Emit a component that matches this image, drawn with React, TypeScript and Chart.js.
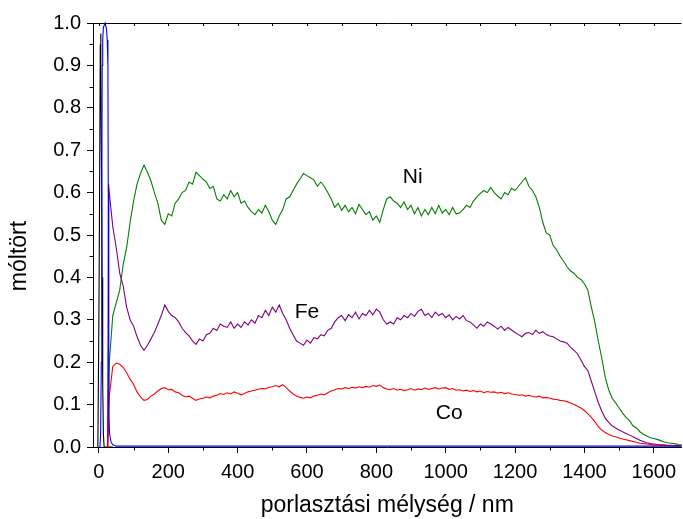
import React, { useEffect, useRef } from "react";
import { Chart, registerables } from "chart.js";

Chart.register(...registerables);

// ---- Data (mole fractions vs. sputter depth in nm) ----
const gridStart = 30;
const gridStep = 10;

const niLeadDepth = [24, 27];
const niLead = [0, 0.05];
const niValues = [
  0.20, 0.31, 0.34, 0.37, 0.43, 0.47, 0.53, 0.58, 0.62, 0.645,
  0.665, 0.648, 0.628, 0.60, 0.575, 0.535, 0.525, 0.55, 0.545, 0.575,
  0.585, 0.60, 0.605, 0.625, 0.62, 0.648, 0.64, 0.632, 0.625, 0.61,
  0.615, 0.585, 0.58, 0.595, 0.585, 0.605, 0.59, 0.60, 0.575, 0.58,
  0.565, 0.555, 0.548, 0.56, 0.552, 0.57, 0.555, 0.535, 0.525, 0.545,
  0.56, 0.585, 0.59, 0.605, 0.62, 0.632, 0.645, 0.64, 0.635, 0.63,
  0.615, 0.625, 0.615, 0.60, 0.585, 0.565, 0.575, 0.558, 0.57, 0.555,
  0.565, 0.55, 0.572, 0.56, 0.548, 0.555, 0.535, 0.545, 0.53, 0.56,
  0.585, 0.59, 0.58, 0.575, 0.565, 0.578, 0.56, 0.57, 0.55, 0.565,
  0.545, 0.56, 0.548, 0.565, 0.55, 0.57, 0.552, 0.56, 0.548, 0.565,
  0.55, 0.552, 0.56, 0.57, 0.565, 0.58, 0.59, 0.598, 0.605, 0.60,
  0.612, 0.60, 0.592, 0.585, 0.60, 0.595, 0.61, 0.605, 0.615, 0.625,
  0.635, 0.615, 0.605, 0.59, 0.565, 0.53, 0.505, 0.50, 0.475, 0.465,
  0.45, 0.438, 0.425, 0.415, 0.41, 0.40, 0.395, 0.385, 0.37, 0.33,
  0.295, 0.25, 0.21, 0.165, 0.135, 0.115, 0.104, 0.092, 0.08, 0.07,
  0.062, 0.05, 0.045, 0.036, 0.03, 0.026, 0.022, 0.02, 0.018, 0.015,
  0.012, 0.01, 0.009, 0.008, 0.006, 0.005,
];

const feLeadDepth = [25, 28];
const feLead = [0, 0.62];
const feValues = [
  0.60, 0.52, 0.47, 0.41, 0.38, 0.33, 0.30, 0.285, 0.26, 0.24,
  0.228, 0.24, 0.255, 0.27, 0.29, 0.31, 0.335, 0.32, 0.31, 0.305,
  0.295, 0.28, 0.27, 0.262, 0.25, 0.242, 0.255, 0.25, 0.265, 0.268,
  0.28, 0.275, 0.29, 0.285, 0.282, 0.295, 0.28, 0.29, 0.282, 0.295,
  0.288, 0.30, 0.292, 0.31, 0.305, 0.322, 0.31, 0.33, 0.318, 0.335,
  0.315, 0.30, 0.28, 0.265, 0.25, 0.245, 0.24, 0.252, 0.245, 0.258,
  0.255, 0.265, 0.262, 0.275, 0.28, 0.295, 0.305, 0.31, 0.298, 0.312,
  0.305, 0.318, 0.302, 0.315, 0.31, 0.322, 0.312, 0.325, 0.318, 0.30,
  0.29, 0.295, 0.29, 0.305, 0.30, 0.31, 0.305, 0.315, 0.308, 0.32,
  0.325, 0.31, 0.315, 0.305, 0.318, 0.31, 0.315, 0.305, 0.312, 0.30,
  0.308, 0.302, 0.31, 0.298, 0.295, 0.288, 0.28, 0.29, 0.285, 0.295,
  0.29, 0.285, 0.278, 0.285, 0.275, 0.282, 0.276, 0.27, 0.265, 0.26,
  0.268, 0.27, 0.265, 0.275, 0.268, 0.272, 0.265, 0.262, 0.26, 0.255,
  0.25, 0.248, 0.245, 0.235, 0.228, 0.22, 0.205, 0.19, 0.18, 0.155,
  0.13, 0.105, 0.085, 0.068, 0.058, 0.05, 0.045, 0.04, 0.036, 0.032,
  0.028, 0.024, 0.02, 0.016, 0.013, 0.01, 0.008, 0.007, 0.006, 0.005,
  0.005, 0.004, 0.004, 0.003, 0.003, 0.003,
];

const coLeadDepth = [26, 28];
const coLead = [0, 0.05];
const coValues = [
  0.12, 0.19, 0.198, 0.195, 0.188, 0.175, 0.16, 0.148, 0.13, 0.118,
  0.11, 0.112, 0.12, 0.125, 0.132, 0.138, 0.14, 0.135, 0.136, 0.13,
  0.128, 0.122, 0.118, 0.12, 0.115, 0.11, 0.113, 0.115, 0.118, 0.116,
  0.12, 0.122, 0.126, 0.124, 0.128, 0.125, 0.13, 0.127, 0.123, 0.126,
  0.13, 0.132, 0.134, 0.136, 0.138, 0.137, 0.141, 0.142, 0.145, 0.142,
  0.147, 0.14, 0.132, 0.125, 0.12, 0.117, 0.115, 0.118, 0.116, 0.12,
  0.122, 0.125, 0.123, 0.128, 0.132, 0.135, 0.138, 0.137, 0.14, 0.138,
  0.141, 0.139, 0.142, 0.14, 0.143, 0.141, 0.145, 0.143, 0.146, 0.14,
  0.137, 0.135, 0.138, 0.134, 0.136, 0.133, 0.135, 0.138, 0.134, 0.137,
  0.135, 0.139, 0.136, 0.138, 0.14, 0.137, 0.139, 0.14, 0.136, 0.138,
  0.134, 0.135, 0.132, 0.134, 0.131, 0.133, 0.13, 0.132, 0.128, 0.131,
  0.129, 0.13, 0.127, 0.129, 0.126, 0.128, 0.125, 0.124, 0.122, 0.123,
  0.12, 0.122, 0.119, 0.118, 0.12, 0.116, 0.117, 0.115, 0.113, 0.112,
  0.11, 0.109, 0.107, 0.104, 0.10, 0.096, 0.092, 0.086, 0.078, 0.07,
  0.06, 0.048, 0.04, 0.034, 0.03, 0.026, 0.024, 0.021, 0.019, 0.017,
  0.015, 0.013, 0.011, 0.009, 0.008, 0.007, 0.006, 0.005, 0.005, 0.004,
  0.004, 0.003, 0.003, 0.003, 0.003, 0.003,
];

const blackDepth = [-3, 0, 2, 4, 5, 6, 8, 9, 11, 13, 15, 40];
const blackValues = [0, 0.3, 0.6, 0.95, 0.975, 0.9, 0.6, 0.4, 0.15, 0.03, 0, 0];

const blueDepth = [0, 3, 5, 7, 8.5, 9.5, 11, 13, 18, 22, 24, 26, 27, 28, 29, 31, 35, 40, 50, 1680];
const blueValues = [0, 0, 0.03, 0.2, 0.6, 0.9, 0.96, 0.99, 1.0, 0.985, 0.96, 0.9, 0.6, 0.25, 0.08, 0.03, 0.012, 0.005, 0.002, 0.002];

const xTickValues = [0, 200, 400, 600, 800, 1000, 1200, 1400, 1600];
const xMinorValues = [100, 300, 500, 700, 900, 1100, 1300, 1500];
const yTickValues = [0, 0.1, 0.2, 0.3, 0.4, 0.5, 0.6, 0.7, 0.8, 0.9, 1.0];
const yMinorValues = [0.05, 0.15, 0.25, 0.35, 0.45, 0.55, 0.65, 0.75, 0.85, 0.95];
const topTickValues = [0, 100, 200, 300, 400, 500, 600, 700, 800, 900, 1000, 1100, 1200, 1300, 1400, 1500, 1600];

const xTitle = "porlasztási mélység / nm";
const yTitle = "móltört";
const seriesLabels = [
  { text: "Ni", x: 905, y: 0.637 },
  { text: "Fe", x: 600, y: 0.318 },
  { text: "Co", x: 1010, y: 0.08 },
];

const FONT = "'Liberation Sans', Arial, Helvetica, sans-serif";

function grid(values: number[]) {
  return values.map((y, i) => ({ x: gridStart + i * gridStep, y }));
}
function pairs(xs: number[], ys: number[]) {
  return xs.map((x, i) => ({ x, y: ys[i] }));
}

const decorPlugin = {
  id: "decor",
  afterDraw(chart: any) {
    const ctx = chart.ctx;
    const xs = chart.scales.x;
    const ys = chart.scales.y;
    const area = chart.chartArea;
    ctx.save();
    ctx.strokeStyle = "#000";
    ctx.lineWidth = 1;
    // top frame line
    ctx.beginPath();
    ctx.moveTo(area.left, area.top + 0.5);
    ctx.lineTo(area.right, area.top + 0.5);
    ctx.stroke();
    // top inward ticks
    ctx.beginPath();
    topTickValues.forEach((v) => {
      const px = Math.round(xs.getPixelForValue(v)) + 0.5;
      ctx.moveTo(px, area.top);
      ctx.lineTo(px, area.top + 3);
    });
    // bottom minor ticks
    xMinorValues.forEach((v) => {
      const px = Math.round(xs.getPixelForValue(v)) + 0.5;
      ctx.moveTo(px, area.bottom);
      ctx.lineTo(px, area.bottom + 3.5);
    });
    // left minor ticks
    yMinorValues.forEach((v) => {
      const py = Math.round(ys.getPixelForValue(v)) + 0.5;
      ctx.moveTo(area.left, py);
      ctx.lineTo(area.left - 3.5, py);
    });
    ctx.stroke();

    // series labels
    ctx.fillStyle = "#000";
    ctx.font = `21px ${FONT}`;
    ctx.textAlign = "center";
    ctx.textBaseline = "middle";
    seriesLabels.forEach((l) => {
      ctx.fillText(l.text, xs.getPixelForValue(l.x), ys.getPixelForValue(l.y));
    });

    // axis titles
    ctx.font = `23px ${FONT}`;
    ctx.fillText(xTitle, (area.left + area.right) / 2, 506);
    ctx.translate(20, 256);
    ctx.rotate(-Math.PI / 2);
    ctx.fillText(yTitle, 0, 0);
    ctx.restore();
  },
};

export default function App() {
  const ref = useRef<HTMLCanvasElement | null>(null);
  useEffect(() => {
    if (!ref.current) return;
    const line = (data: any[], color: string) => ({
      data,
      borderColor: color,
      backgroundColor: color,
      borderWidth: 1.1,
      pointRadius: 0,
      tension: 0,
      fill: false,
      clip: false as any,
    });
    const chart = new Chart(ref.current, {
      type: "line",
      data: {
        datasets: [
          line(pairs(blueDepth, blueValues), "#0000ff"),
          line([...pairs(coLeadDepth, coLead), ...grid(coValues)], "#ff0000"),
          line([...pairs(feLeadDepth, feLead), ...grid(feValues)], "#800080"),
          line([...pairs(niLeadDepth, niLead), ...grid(niValues)], "#008000"),
          line(pairs(blackDepth, blackValues), "#000000"),
        ],
      },
      options: {
        animation: false,
        responsive: false,
        parsing: true,
        layout: { padding: { top: 23, right: 0, left: 0, bottom: 0 } },
        plugins: { legend: { display: false }, tooltip: { enabled: false } },
        scales: {
          x: {
            type: "linear",
            min: -17,
            max: 1680,
            afterFit: (s: any) => {
              s.height = 72;
            },
            afterBuildTicks: (s: any) => {
              s.ticks = xTickValues.map((v) => ({ value: v }));
            },
            grid: {
              display: true,
              drawOnChartArea: false,
              drawTicks: true,
              tickLength: 6,
              tickColor: "#000",
              tickWidth: 1,
            },
            border: { display: true, color: "#000", width: 1 },
            ticks: {
              color: "#000",
              font: { family: FONT, size: 20 },
              padding: 7,
              maxRotation: 0,
              autoSkip: false,
              callback: (v: any) => String(v),
            },
          },
          y: {
            type: "linear",
            min: 0,
            max: 1,
            afterFit: (s: any) => {
              s.width = 93;
            },
            afterBuildTicks: (s: any) => {
              s.ticks = yTickValues.map((v) => ({ value: v }));
            },
            grid: {
              display: true,
              drawOnChartArea: false,
              drawTicks: true,
              tickLength: 6,
              tickColor: "#000",
              tickWidth: 1,
            },
            border: { display: true, color: "#000", width: 1 },
            ticks: {
              color: "#000",
              font: { family: FONT, size: 20 },
              padding: 6,
              autoSkip: false,
              callback: (v: any) => Number(v).toFixed(1),
            },
          },
        },
      },
      plugins: [decorPlugin],
    });
    return () => chart.destroy();
  }, []);
  return (
    <div style={{ position: "absolute", left: 0, top: 0, width: 683, height: 519, background: "#fff" }}>
      <canvas ref={ref} width={683} height={519} style={{ width: 683, height: 519 }} />
    </div>
  );
}
